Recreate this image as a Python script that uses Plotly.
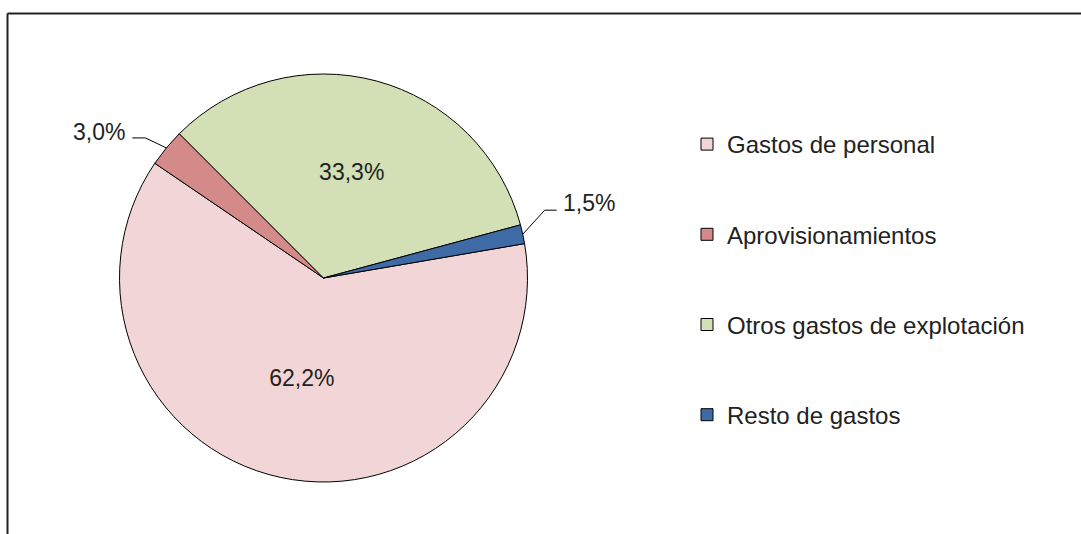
import math
import plotly.graph_objects as go

# ---------------- data ----------------
labels = ["Gastos de personal", "Aprovisionamientos", "Otros gastos de explotación", "Resto de gastos"]
values = [62.2, 3.0, 33.3, 1.5]
colors = ["#F2D5D6", "#D48A89", "#D3E0B5", "#3E6BA6"]

# ---------------- layout constants ----------------
W, H = 1081, 534
CX, CY, R = 323.5, 278, 204          # pie centre / radius in px
ROT = 80.3                           # start angle (deg clockwise from 12 o'clock)
FONT = "Liberation Sans, Arial, sans-serif"
TXT = "#222222"
FS = 23
FS_LEG = 24
SMALL = 5.0                          # slices below this % get outside labels

total = sum(values)

fig = go.Figure()

fig.add_trace(go.Pie(
    labels=labels,
    values=values,
    sort=False,
    direction="clockwise",
    rotation=ROT,
    marker=dict(colors=colors, line=dict(color="#000000", width=1)),
    texttemplate="%{percent:.1%}",
    textposition=["inside" if v / total * 100 >= SMALL else "none" for v in values],
    insidetextorientation="horizontal",
    insidetextfont=dict(family=FONT, size=FS, color=TXT),
    showlegend=False,
    hoverinfo="label+percent",
    domain=dict(x=[(CX - R) / W, (CX + R) / W], y=[1 - (CY + R) / H, 1 - (CY - R) / H]),
))

# legend via dummy traces (to get the wide vertical spacing)
for i, (lab, col) in enumerate(zip(labels, colors)):
    fig.add_trace(go.Scatter(
        x=[None], y=[None], mode="markers", name=lab,
        legendgroup=f"g{i}",
        marker=dict(symbol="square", size=12, color=col, line=dict(color="#000000", width=1)),
        showlegend=True,
    ))

# outside labels with leader lines for the small slices
def px2paper(x, y):
    return x / W, 1 - y / H

# style offsets (px) relative to the slice's edge point: elbow, line end, text anchor
leader_style = {
    "left":  dict(elbow=(-21, -10), end=(-34, -10), text=(-39, -16), anchor="right"),
    "right": dict(elbow=(22, -24), end=(34, -24), text=(38, -31), anchor="left"),
}

cum = 0.0
for lab, v in zip(labels, values):
    frac = v / total
    mid = math.radians(ROT + 360 * (cum + frac / 2))
    cum += frac
    if frac * 100 >= SMALL:
        continue
    ex, ey = CX + R * math.sin(mid), CY - R * math.cos(mid)
    st = leader_style["right" if math.sin(mid) > 0 else "left"]
    pts = [(ex, ey), (ex + st["elbow"][0], ey + st["elbow"][1]), (ex + st["end"][0], ey + st["end"][1])]
    path = "M " + " L ".join("%.4f,%.4f" % px2paper(*p) for p in pts)
    fig.add_shape(type="path", path=path, xref="paper", yref="paper",
                  line=dict(color="#000000", width=1))
    tx, ty = px2paper(ex + st["text"][0], ey + st["text"][1])
    fig.add_annotation(x=tx, y=ty, xref="paper", yref="paper", showarrow=False,
                       text=f"{frac * 100:.1f}".replace(".", ",") + "%",
                       xanchor=st["anchor"], yanchor="middle",
                       font=dict(family=FONT, size=FS, color=TXT))

# frame (top and left border)
fig.add_shape(type="line", xref="paper", yref="paper", x0=7.5 / W, x1=1.0, y0=1 - 13.5 / H, y1=1 - 13.5 / H,
              line=dict(color="#222222", width=2))
fig.add_shape(type="line", xref="paper", yref="paper", x0=7.5 / W, x1=7.5 / W, y0=0, y1=1 - 13.5 / H,
              line=dict(color="#222222", width=2))

fig.update_layout(
    width=W, height=H,
    margin=dict(l=0, r=0, t=0, b=0),
    paper_bgcolor="white", plot_bgcolor="white",
    separators=",.",
    xaxis=dict(visible=False), yaxis=dict(visible=False),
    legend=dict(x=687 / W, y=1 - 122 / H, xanchor="left", yanchor="top",
                font=dict(family=FONT, size=FS_LEG, color=TXT),
                tracegroupgap=56, bgcolor="rgba(0,0,0,0)"),
    font=dict(family=FONT, color=TXT),
)

fig.write_html("out.html", config={"displayModeBar": False},
               post_script="document.body.style.margin='0';")
